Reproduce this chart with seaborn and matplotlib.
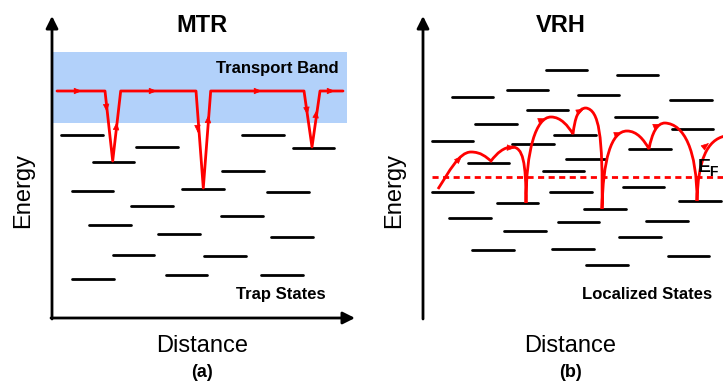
import numpy as np
import pandas as pd
import matplotlib
matplotlib.use("Agg")
import matplotlib.pyplot as plt
from matplotlib.patches import Rectangle, PathPatch
from matplotlib.path import Path
import seaborn as sns

sns.set_theme(style="white")
plt.rcParams['font.family'] = ['Liberation Sans', 'DejaVu Sans']
plt.rcParams['text.color'] = 'black'

# ---------------- data (schematic, pixel units) ----------------
# MTR trap states: x start, x end, energy level (y)
mtr_x0 = [61, 136, 93, 242, 293, 222, 72, 182, 267, 131, 89, 221, 158, 271, 113, 204, 72, 166, 261]
mtr_x1 = [103, 178, 134, 284, 334, 264, 113, 224, 309, 173, 131, 263, 200, 313, 154, 246, 114, 207, 303]
mtr_y = [135, 147, 162, 135, 148, 171, 191, 189, 192, 206, 225, 216, 234, 237, 255, 256, 279, 275, 275]

# MTR transport path
mtr_path_x = [57, 105, 112.7, 120.7, 196, 203.3, 210.7, 304, 312, 320, 343]
mtr_path_y = [91, 91, 161, 91, 91, 188, 91, 91, 147, 91, 91]
# arrow heads (tip x, tip y, dx, dy)
mtr_arrows = [(82, 91, 1, 0), (157, 91, 1, 0), (262, 91, 1, 0), (335, 91, 1, 0),
              (106.9, 112, 0.1, 1), (116.9, 122, 0.11, -1),
              (198.0, 133, 0.07, 1), (208.5, 115, 0.07, -1),
              (307.5, 115, 0.14, 1), (316.7, 110, 0.14, -1)]

# VRH localized states
vrh_x0 = [546, 617, 507, 452, 578, 670, 527, 475, 615, 672, 432, 554, 512, 629, 468, 566,
          543, 623, 432, 550, 497, 584, 679, 449, 558, 646, 504, 619, 472, 552, 668, 586]
vrh_x1 = [587, 658, 548, 493, 619, 712, 568, 517, 657, 713, 473, 596, 554, 671, 509, 605,
          584, 664, 473, 592, 538, 626, 721, 491, 599, 688, 546, 661, 514, 594, 709, 628]
vrh_y = [70, 75, 90, 97, 95, 100, 110, 124, 117, 129, 141, 135, 144, 149, 163, 159,
         171, 187, 192, 192, 203, 209, 201, 218, 222, 221, 231, 237, 250, 249, 256, 265]

# VRH hopping path: cubic segments (P0, P1, P2, P3)
vrh_hops = [
    ((438, 189), (449, 172), (459, 152), (471, 152)),
    ((471, 152), (481, 152), (486, 157), (491, 161)),
    ((491, 161), (497, 153), (504, 147), (512, 147)),
    ((512, 147), (523, 147), (526, 162), (526, 203)),
    ((526, 203), (526, 150), (536, 117), (551, 117)),
    ((551, 117), (561, 117), (568, 126), (573, 134)),
    ((573, 134), (575, 118), (578, 108), (586, 108)),
    ((586, 108), (599, 110), (603, 135), (602, 209)),
    ((602, 209), (603, 160), (611, 131), (627, 131)),
    ((627, 131), (637, 131), (644, 140), (649, 149)),
    ((649, 149), (652, 133), (657, 123), (665, 123)),
    ((665, 123), (684, 124), (697, 150), (697, 201)),
    ((697, 201), (698, 160), (707, 140), (725, 136)),
]
vrh_arrows = [(462, 156, 1, -1.0), (515, 148, 1, 0.05), (546, 118.5, 1, -0.35),
              (584, 109, 1, -0.5), (622, 132.5, 1, -0.35), (661, 124, 1, -0.4),
              (709, 143, 1, -0.8)]
fermi_y = 177

# ---------------- figure ----------------
fig = plt.figure(figsize=(7.23, 3.83), dpi=100)
ax = fig.add_axes([0, 0, 1, 1])
ax.axis('off')

RED = '#ff0000'

# transport band
ax.add_patch(Rectangle((53, 52), 294, 71, facecolor='#b2d1fa', edgecolor='none', zorder=0))

# states with seaborn lineplot
def seg_frame(x0, x1, y):
    rows = []
    for i, (a, b, c) in enumerate(zip(x0, x1, y)):
        rows.append((i, a, c))
        rows.append((i, b, c))
    return pd.DataFrame(rows, columns=['seg', 'x', 'y'])

sns.lineplot(data=seg_frame(mtr_x0, mtr_x1, mtr_y), x='x', y='y', units='seg',
             estimator=None, sort=False, color='black', lw=2.0, ax=ax, legend=False)
sns.lineplot(data=seg_frame(vrh_x0, vrh_x1, vrh_y), x='x', y='y', units='seg',
             estimator=None, sort=False, color='black', lw=2.0, ax=ax, legend=False)

# MTR path
sns.lineplot(x=mtr_path_x, y=mtr_path_y, sort=False, estimator=None, color=RED,
             lw=2.0, ax=ax, legend=False)

def head(x, y, dx, dy):
    n = np.hypot(dx, dy)
    ax.annotate('', xy=(x, y), xytext=(x - 4 * dx / n, y - 4 * dy / n),
                arrowprops=dict(arrowstyle='-|>,head_length=0.45,head_width=0.18', color=RED, lw=0.5,
                                shrinkA=0, shrinkB=0, mutation_scale=11), zorder=5)

for a in mtr_arrows:
    head(*a)

# Fermi level
ax.plot([432, 723], [fermi_y, fermi_y], color=RED, lw=2.0, dashes=(2.2, 1.6), zorder=3)

# VRH path
verts = [vrh_hops[0][0]]
codes = [Path.MOVETO]
for p0, p1, p2, p3 in vrh_hops:
    verts += [p1, p2, p3]
    codes += [Path.CURVE4] * 3
ax.add_patch(PathPatch(Path(verts, codes), facecolor='none', edgecolor=RED, lw=2.0, zorder=4))
for a in vrh_arrows:
    head(*a)

# axes arrows
def axis_arrow(x0, y0, x1, y1):
    ax.annotate('', xy=(x1, y1), xytext=(x0, y0),
                arrowprops=dict(arrowstyle='-|>', color='black', lw=2.0,
                                shrinkA=0, shrinkB=0, mutation_scale=18), zorder=6)

axis_arrow(52, 319, 52, 16)
axis_arrow(51, 318, 355, 318)
axis_arrow(423, 319, 423, 16)
axis_arrow(422, 318, 724, 318)

# texts
kw = dict(color='black')
ax.text(202, 32, 'MTR', fontsize=17, fontweight='bold', ha='center', va='baseline', **kw)
ax.text(561, 32, 'VRH', fontsize=17, fontweight='bold', ha='center', va='baseline', **kw)
ax.text(339, 73, 'Transport Band', fontsize=12, fontweight='bold', ha='right', va='baseline', **kw)
ax.text(326, 299, 'Trap States', fontsize=12, fontweight='bold', ha='right', va='baseline', **kw)
ax.text(712, 299, 'Localized States', fontsize=12, fontweight='bold', ha='right', va='baseline', **kw)
ax.text(202, 352, 'Distance', fontsize=17, ha='center', va='baseline', **kw)
ax.text(570, 352, 'Distance', fontsize=17, ha='center', va='baseline', **kw)
ax.text(202, 377, '(a)', fontsize=13, fontweight='bold', ha='center', va='baseline', **kw)
ax.text(571, 377, '(b)', fontsize=13, fontweight='bold', ha='center', va='baseline', **kw)
ax.text(23, 190, 'Energy', fontsize=17, rotation=90, ha='center', va='center', **kw)
ax.text(394, 190, 'Energy', fontsize=17, rotation=90, ha='center', va='center', **kw)
ax.text(698, 172, 'E', fontsize=14, fontweight='bold', ha='left', va='baseline', zorder=7, **kw)
ax.text(709.5, 176, 'F', fontsize=10, fontweight='bold', ha='left', va='baseline', zorder=7, **kw)

ax.set_xlim(0, 723)
ax.set_ylim(383, 0)
fig.savefig('out.png', dpi=100)
